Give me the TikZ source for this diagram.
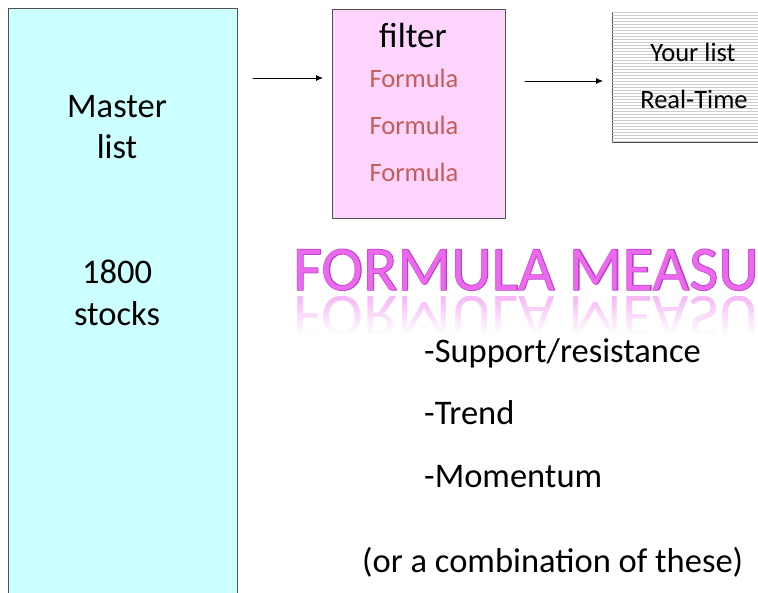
\documentclass[tikz,border=0pt]{standalone}
\usepackage{fontspec}
\setmainfont{Carlito}
\newfontfamily\titleedgefont[FakeBold=2]{Carlito}
\usetikzlibrary{arrows.meta,positioning,patterns}
\definecolor{mastercyan}{RGB}{204,255,255}
\definecolor{filterpink}{RGB}{252,212,252}
\definecolor{formulared}{RGB}{196,92,88}
\definecolor{titlemagenta}{RGB}{236,104,236}
\definecolor{titleedge}{RGB}{176,64,196}
\definecolor{boxgray}{RGB}{80,80,80}

\begin{document}
\begin{tikzpicture}[x=1pt,y=-1pt,line cap=round,line join=round,
  box/.style={draw=boxgray,line width=.8pt,inner sep=0pt,anchor=north west},
  bigtxt/.style={inner sep=0pt,anchor=base,font=\fontsize{34.5}{40}\selectfont},
  smalltxt/.style={inner sep=0pt,anchor=base,font=\fontsize{26.5}{30}\selectfont},
  listtxt/.style={inner sep=0pt,anchor=base west,font=\fontsize{34.5}{40}\selectfont},
  titletxt/.style={inner sep=0pt,font=\fontsize{63}{70}\selectfont},
  link/.style={-{Latex[length=7pt,width=6pt]},line width=.8pt}]
\path[use as bounding box] (0,0) rectangle (758,592);
\clip (0,0) rectangle (758,592);
% boxes
\node[box,fill=mastercyan,minimum width=229pt,minimum height=600pt] (master) at (8,8) {};
\node[box,fill=filterpink,minimum width=173pt,minimum height=209pt] (filter) at (332,9) {};
\node[box,fill=white,postaction={pattern=horizontal lines,pattern color=gray!40},
  minimum width=170pt,minimum height=130pt] (yourlist) at (612,12) {};
% texts
\node[bigtxt] (master1) at (117,117) {Master};
\node[bigtxt] (master2) at (117,158) {list};
\node[bigtxt] (count1) at (117,283) {1800};
\node[bigtxt] (count2) at (117,325) {stocks};
\node[bigtxt,font=\fontsize{35}{40}\selectfont] (filtername) at (413,47) {filter};
\foreach \y [count=\i] in {87,134,181}
  \node[smalltxt,text=formulared] (formula\i) at (414,\y) {Formula};
\node[smalltxt] (yourlist1) at (693,61) {Your list};
\node[smalltxt] (yourlist2) at (694,108) {Real-Time};
% arrows
\coordinate (in1) at (253,78);
\coordinate (in2) at (525,81);
\draw[link] (in1) -- ([xshift=-9pt]in1 -| filter.west);
\draw[link] (in2) -- ([xshift=-9pt]in2 -| yourlist.west);
% title and its reflection
\node[titletxt,anchor=base west,text=titleedge,font=\titleedgefont\fontsize{63}{70}\selectfont]
  (titleshade) at (293,290) {FORMULA MEASURES};
\node[titletxt,anchor=base west,text=titlemagenta] (title) at (293,290) {FORMULA MEASURES};
\foreach \k in {0,...,8} {
  \begin{scope}
    \pgfmathsetmacro\shadeval{46-5*\k}
    \clip (280,296+4*\k) rectangle (758,300+4*\k);
    \node[titletxt,anchor=north west,text=titlemagenta!\shadeval] (echo\k) at (293,296)
      {\scalebox{1}[-1]{FORMULA MEASURES}};
  \end{scope}
}
% measures
\node[listtxt] (support) at (424,362) {-Support/resistance};
\node[listtxt] (trend) at (424,424) {-Trend};
\node[listtxt] (momentum) at (424,487) {-Momentum};
\node[listtxt] (combo) at (362,572) {(or a combination of these)};
\end{tikzpicture}
\end{document}
